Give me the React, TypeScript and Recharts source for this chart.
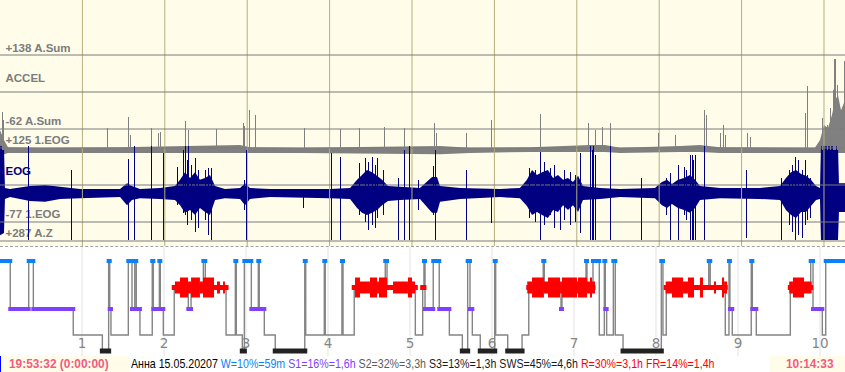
import { Area, ComposedChart, Line, LineChart, ReferenceLine, XAxis, YAxis } from "recharts";

// ---------- recording window (minutes from the start of the strip) ----------
const SIGNAL_SPAN_MIN = 615.3;
const HYPNO_SPAN_MIN = 618.3;
const HOURS = [1, 2, 3, 4, 5, 6, 7, 8, 9, 10];

// ---------- channels ----------
const ACCEL_RANGE = { name: "ACCEL", unit: "A.Sum", max: 138, min: -62 };
const EOG_RANGE = { name: "EOG", unit: "1.EOG", max: 125, min: -77 };
const AZ_TOP = { unit: "A.Z", max: 287 };

// resting level of the accelerometer sum
const ACCEL_REST = -120;

// [minute, upper, lower]
const ACCEL_BAND: [number, number, number][] = [
  [0, -65, -130], [2.9, -92, -130], [5.8, -111, -127], [29.1, -113, -127], [87.4, -111, -127],
  [174.8, -105, -127], [182.0, -111, -127], [218.4, -113, -127], [320.4, -108, -130], [342.2, -113, -127],
  [385.9, -111, -124], [429.6, -105, -124], [440.5, -105, -124], [451.5, -113, -127], [495.1, -108, -124],
  [509.7, -105, -124], [524.3, -111, -127], [593.4, -113, -127], [597.1, -92, -127], [600.0, -51, -127],
  [602.9, -59, -127], [605.8, -24, -127], [608.0, 16, -127], [610.2, 30, -127], [612.4, -11, -127],
  [615.3, 16, -127],
];

// [minute, peak]
const ACCEL_PEAKS: [number, number][] = [
  [1.5, -16], [2.9, -38], [78.1, -59], [93.4, -30], [94.7, -78], [110.5, -59], [115.3, -73], [117.0, -70],
  [135.2, -40], [137.6, -65], [157.8, -62], [177.2, -46], [178.4, -54], [181.5, -11], [186.4, -24],
  [221.4, -59], [247.6, -62], [262.1, -59], [279.8, -57], [294.2, -59], [316.5, -46], [317.5, -73],
  [339.5, -73], [357.7, -38], [393.4, -21], [428.7, -46], [433.5, -65], [438.4, -57], [444.4, -46],
  [479.6, -73], [492.2, -78], [513.1, -11], [514.1, -24], [524.8, -73], [527.0, -51], [528.1, -78],
  [544.4, -73], [546.3, -84], [586.9, -19], [587.8, 54], [598.6, -32], [602.2, -51], [604.4, -5],
  [606.6, 43], [607.3, 127], [608.7, 127], [610.2, 57], [611.6, 3], [614.6, 122],
];

// [minute, upper, lower]
const EOG_BAND: [number, number, number][] = [
  [0, 130, -113], [2.9, 130, -107], [3.6, 16, -14], [7.3, 13, -9], [21.8, 21, -20], [32.8, 24, -22],
  [43.7, 19, -14], [58.3, 13, -12], [87.4, 13, -9], [92.5, 29, -31], [96.1, 21, -17], [101.9, 13, -12],
  [116.5, 16, -14], [127.4, 21, -17], [131.1, 38, -31], [134.7, 59, -52], [138.4, 43, -44], [142.0, 59, -58],
  [145.6, 38, -39], [149.3, 43, -50], [152.9, 51, -58], [156.6, 21, -17], [163.8, 13, -12], [174.8, 16, -14],
  [178.4, 29, -31], [182.0, 16, -14], [196.6, 13, -9], [240.3, 13, -12], [254.9, 16, -14], [260.0, 38, -39],
  [263.6, 51, -52], [267.2, 65, -58], [270.9, 59, -52], [274.5, 49, -44], [278.2, 38, -31], [282.5, 21, -20],
  [291.3, 19, -17], [305.8, 16, -14], [314.6, 46, -52], [318.2, 46, -52], [320.4, 21, -22], [335.0, 16, -14],
  [364.1, 13, -9], [378.6, 16, -12], [383.7, 38, -33], [387.4, 65, -58], [391.0, 51, -50], [394.7, 59, -58],
  [399.0, 65, -66], [402.7, 43, -44], [406.3, 51, -50], [410.0, 38, -31], [413.6, 43, -44], [417.2, 32, -31],
  [420.9, 49, -50], [424.5, 21, -17], [436.9, 16, -14], [451.5, 13, -9], [476.9, 16, -12], [482.0, 32, -31],
  [485.7, 38, -39], [489.3, 27, -28], [493.7, 38, -39], [498.1, 43, -44], [502.4, 51, -52], [506.1, 38, -39],
  [509.7, 21, -17], [524.3, 16, -12], [553.4, 16, -14], [568.0, 21, -17], [572.3, 43, -44], [576.0, 59, -58],
  [579.6, 65, -66], [583.3, 54, -50], [586.9, 49, -50], [590.5, 38, -33], [594.2, 21, -17], [597.1, 16, -14],
  [597.8, 130, -126], [610.2, 130, -126], [610.9, 29, -50], [615.3, 29, -50],
];

// [minute, upper, lower]
const EOG_SPIKES: [number, number, number][] = [
  [21.1, 130, -126], [51.7, 65, -126], [93.4, 95, -126], [97.6, 130, -126], [110.5, 130, -126],
  [118.9, 111, -126], [129.6, 73, -31], [133.3, 120, -52], [135.2, 130, -58], [136.2, 92, -85],
  [137.6, 130, -44], [139.8, 79, -72], [142.5, 98, -104], [144.2, 65, -93], [149.3, 65, -72],
  [151.5, 70, -113], [154.2, 70, -126], [177.7, 38, -44], [179.6, 120, -126], [220.9, 10, -39],
  [241.5, 111, -126], [247.6, 100, -126], [262.1, 84, -58], [265.8, 98, -77], [268.0, 87, -99],
  [270.9, 100, -85], [273.1, 79, -93], [275.2, 98, -66], [278.9, 65, -58], [290.0, 43, -126],
  [294.4, 120, -126], [298.0, 130, -126], [304.4, 38, -44], [315.3, 76, -58], [317.0, 120, -126],
  [339.5, 65, -126], [357.7, 2, -80], [385.9, 70, -66], [389.6, 65, -77], [393.4, 114, -126],
  [396.8, 87, -85], [400.5, 70, -58], [404.1, 79, -93], [408.0, 43, -99], [411.4, 65, -72],
  [415.1, 59, -85], [418.7, 51, -77], [422.6, 111, -107], [429.8, 130, -126], [431.1, 120, -126],
  [432.5, 130, -126], [433.5, 106, -126], [444.4, 130, -126], [467.0, 43, -126], [485.0, 43, -58],
  [488.1, 57, -126], [494.2, 79, -126], [498.1, 73, -58], [500.2, 65, -72], [502.6, 106, -126],
  [503.9, 106, -126], [505.3, 92, -126], [506.3, 106, -126], [513.1, 130, -126], [543.9, 65, -121],
  [569.4, 43, -126], [575.2, 65, -85], [577.4, 79, -104], [579.6, 100, -126], [581.8, 92, -113],
  [584.0, 65, -121], [586.2, 92, -85], [588.3, 51, -72], [590.5, 43, -66],
];

// ---------- hypnogram ----------
type Stage = "W" | "R" | "S1" | "S2" | "S3";

// [minute, stage entered]
const STAGE_CHANGES: [number, Stage][] = [
  [0, "W"], [7.5, "S1"], [21.0, "W"], [24.4, "S1"], [53.6, "S2"], [74.9, "S3"], [79.5, "W"], [80.3, "S1"],
  [81.2, "S2"], [93.9, "W"], [96.6, "S1"], [98.6, "W"], [99.7, "S1"], [102.4, "S2"], [111.4, "W"],
  [112.2, "S1"], [116.6, "W"], [117.3, "S1"], [119.5, "S2"], [127.5, "R"], [137.8, "S1"], [139.8, "R"],
  [148.8, "W"], [150.2, "R"], [165.4, "S2"], [172.2, "W"], [172.9, "S2"], [177.3, "S3"], [178.8, "W"],
  [183.9, "S1"], [189.0, "W"], [189.7, "S1"], [193.4, "S2"], [201.4, "S3"], [223.0, "W"], [223.7, "S2"],
  [237.3, "W"], [238.0, "S2"], [250.2, "W"], [251.0, "S2"], [259.2, "R"], [281.9, "W"], [283.2, "R"],
  [303.9, "S2"], [309.3, "R"], [310.2, "W"], [311.0, "S1"], [317.0, "W"], [321.4, "S1"], [328.8, "S2"],
  [338.3, "S3"], [342.2, "W"], [343.9, "S1"], [345.6, "S2"], [351.4, "S3"], [362.0, "W"], [362.7, "S2"],
  [371.5, "S3"], [382.0, "S2"], [386.9, "R"], [397.5, "W"], [398.3, "R"], [410.5, "S1"], [411.2, "R"],
  [428.8, "W"], [429.5, "R"], [433.9, "W"], [438.5, "S2"], [442.2, "W"], [442.9, "S1"], [443.9, "S2"],
  [448.8, "W"], [450.2, "S2"], [455.9, "S3"], [483.9, "W"], [485.1, "S2"], [487.5, "R"], [518.6, "W"],
  [519.7, "R"], [530.7, "S2"], [533.4, "W"], [534.1, "S1"], [535.8, "S2"], [549.7, "W"], [550.5, "S1"],
  [553.4, "S2"], [578.3, "R"], [593.2, "W"], [594.9, "S1"], [601.7, "S2"], [604.2, "W"],
];

// phasic REM bursts: [from, to, intensity 1 = moderate, 2 = strong]
const PHASIC_REM: [number, number, 1 | 2][] = [
  [128.0, 131.7, 1], [131.7, 137.6, 2], [137.6, 139.8, 1], [139.8, 146.3, 2], [146.3, 148.5, 1],
  [148.5, 156.6, 2], [158.8, 161.0, 1], [163.2, 164.6, 1],
  [259.8, 263.4, 2], [263.4, 270.7, 1], [270.7, 275.9, 2], [275.9, 277.3, 1], [277.3, 283.2, 2],
  [287.6, 298.5, 1], [298.5, 301.5, 2], [301.5, 303.7, 1],
  [385.8, 389.3, 1], [389.3, 398.0, 2], [398.0, 401.0, 1], [401.0, 409.8, 2], [409.8, 411.2, 1],
  [411.2, 422.2, 2], [422.2, 422.9, 1], [422.9, 429.5, 2], [429.5, 431.7, 1], [431.7, 433.2, 2],
  [433.2, 435.4, 1],
  [487.1, 491.7, 1], [491.7, 499.8, 2], [499.8, 503.4, 1], [503.4, 507.8, 2], [512.2, 514.4, 2],
  [522.4, 523.9, 1], [528.3, 529.8, 2], [529.8, 532.0, 1],
  [577.5, 580.2, 1], [580.2, 588.3, 2], [588.3, 593.9, 1],
];

// ---------- status line ----------
const START_TIME = "19:53:32 (0:00:00)";
const END_TIME = "10:14:33";
const STATS: { text: string; tone: string }[] = [
  { text: "Анна 15.05.20207", tone: "name" },
  { text: "W=10%=59m", tone: "W" },
  { text: "S1=16%=1,6h", tone: "S1" },
  { text: "S2=32%=3,3h", tone: "S2" },
  { text: "S3=13%=1,3h", tone: "S3" },
  { text: "SWS=45%=4,6h", tone: "S3" },
  { text: "R=30%=3,1h", tone: "R" },
  { text: "FR=14%=1,4h", tone: "R" },
];

// ---------- styling ----------
const WIDTH = 845;
const SIGNAL_H = 246;
const HYPNO_H = 109;
const CREAM = "#fffdea";
const NAVY = "#000080";
const TRACE_GRAY = "#808080";
const ROW_LINE = "#7a7a7a";
const HOUR_LINE = "#b3af7c";
const LABEL_GRAY = "#7c7c7c";
const PINK = "#f4597f";
const SANS = "'Liberation Sans', Arial, sans-serif";

// channel rows in the signal strip
const CH_TOP = 55;
const CH_SPAN = 74;
const CH_STEP = 93;

const STAGE_STYLE: Record<Stage, { level: number; color: string; width: number }> = {
  W: { level: 0, color: "#0a80ff", width: 4 },
  R: { level: 1.18, color: "#ff0000", width: 5 },
  S1: { level: 2.13, color: "#8040ff", width: 4 },
  S2: { level: 3.29, color: "#808080", width: 0 },
  S3: { level: 4, color: "#222222", width: 5 },
};
const TONE_COLOR: Record<string, string> = {
  name: "#000000",
  W: "#0a80ff",
  S1: "#8040ff",
  S2: "#5c5c5c",
  S3: "#1a1a1a",
  R: "#ff0000",
};
const HYPNO_PAD_TOP = 14;
const HYPNO_ROW = 22.5;

function channelDomain(max: number, min: number, row: number): [number, number] {
  const pxPerUnit = CH_SPAN / (max - min);
  const top = CH_TOP + row * CH_STEP;
  return [max - (SIGNAL_H - top) / pxPerUnit, max + top / pxPerUnit];
}

const accDomain = channelDomain(ACCEL_RANGE.max, ACCEL_RANGE.min, 0);
const eogDomain = channelDomain(EOG_RANGE.max, EOG_RANGE.min, 1);
// top of the next (A.Z) row, expressed on the EOG scale
const azOnEog = EOG_RANGE.max - (CH_STEP * (EOG_RANGE.max - EOG_RANGE.min)) / CH_SPAN;

const accBand = ACCEL_BAND.map(([t, hi, lo]) => ({ t, v: [lo, hi] }));
const eogBand = EOG_BAND.map(([t, hi, lo]) => ({ t, v: [lo, hi] }));
const accPeaks = ACCEL_PEAKS.flatMap(([t, hi]) => [
  { t, v: hi },
  { t, v: ACCEL_REST },
  { t, v: null },
]);
const eogSpikes = EOG_SPIKES.flatMap(([t, hi, lo]) => [
  { t, v: hi },
  { t, v: lo },
  { t, v: null },
]);

const minorTicks = Array.from({ length: Math.floor(SIGNAL_SPAN_MIN / 10) + 1 }, (_, i) => i * 10);
const hourTicks = HOURS.map((h) => h * 60);

const fmtBound = (v: number) => `${v > 0 ? "+" : ""}${v}`;

function RowLabel(props: any) {
  const { viewBox, caption, color, lift } = props;
  if (!viewBox) return null;
  return (
    <text
      x={viewBox.x + 5.5}
      y={viewBox.y - lift}
      fill={color}
      fontFamily={SANS}
      fontSize={11.5}
      fontWeight="bold"
    >
      {caption}
    </text>
  );
}

function HourLabel(props: any) {
  const { viewBox, hour } = props;
  if (!viewBox) return null;
  return (
    <text
      x={viewBox.x}
      y={viewBox.y + viewBox.height - 8}
      textAnchor="middle"
      fill="#868686"
      fontFamily="'DejaVu Sans', sans-serif"
      fontSize={13.5}
    >
      {hour}
    </text>
  );
}

function SignalStrip() {
  const rows = [
    { axis: "acc", value: ACCEL_RANGE.max, caption: `${fmtBound(ACCEL_RANGE.max)} ${ACCEL_RANGE.unit}`, color: LABEL_GRAY, lift: 3.5 },
    { axis: "acc", value: (ACCEL_RANGE.max + ACCEL_RANGE.min) / 2, caption: ACCEL_RANGE.name, color: LABEL_GRAY, lift: 10 },
    { axis: "acc", value: ACCEL_RANGE.min, caption: `${fmtBound(ACCEL_RANGE.min)} ${ACCEL_RANGE.unit}`, color: LABEL_GRAY, lift: 4.5 },
    { axis: "eog", value: EOG_RANGE.max, caption: `${fmtBound(EOG_RANGE.max)} ${EOG_RANGE.unit}`, color: LABEL_GRAY, lift: 4 },
    { axis: "eog", value: (EOG_RANGE.max + EOG_RANGE.min) / 2, caption: EOG_RANGE.name, color: NAVY, lift: 10 },
    { axis: "eog", value: EOG_RANGE.min, caption: `${fmtBound(EOG_RANGE.min)} ${EOG_RANGE.unit}`, color: LABEL_GRAY, lift: 4 },
    { axis: "eog", value: azOnEog, caption: `${fmtBound(AZ_TOP.max)} ${AZ_TOP.unit}`, color: LABEL_GRAY, lift: 4 },
  ];

  return (
    <ComposedChart width={WIDTH} height={SIGNAL_H} margin={{ top: 0, right: 0, bottom: 0, left: 0 }}>
      <XAxis xAxisId="t" dataKey="t" type="number" domain={[0, SIGNAL_SPAN_MIN]} allowDataOverflow hide />
      <XAxis
        xAxisId="minor"
        type="number"
        orientation="top"
        mirror
        domain={[0, SIGNAL_SPAN_MIN]}
        ticks={minorTicks}
        tick={false}
        tickSize={3.5}
        tickLine={{ stroke: "#000" }}
        axisLine={false}
        allowDataOverflow
      />
      <XAxis
        xAxisId="major"
        type="number"
        orientation="top"
        mirror
        domain={[0, SIGNAL_SPAN_MIN]}
        ticks={hourTicks}
        tick={false}
        tickSize={6}
        tickLine={{ stroke: "#000" }}
        axisLine={false}
        allowDataOverflow
      />
      <YAxis yAxisId="acc" type="number" domain={accDomain} allowDataOverflow hide />
      <YAxis yAxisId="eog" type="number" domain={eogDomain} allowDataOverflow hide />

      {hourTicks.map((m) => (
        <ReferenceLine key={m} xAxisId="t" yAxisId="eog" x={m} stroke={HOUR_LINE} strokeWidth={1} />
      ))}
      {rows.map((r, i) => (
        <ReferenceLine
          key={i}
          xAxisId="t"
          yAxisId={r.axis}
          y={r.value}
          stroke={ROW_LINE}
          strokeWidth={1}
          label={<RowLabel caption={r.caption} color={r.color} lift={r.lift} />}
        />
      ))}

      <Area
        xAxisId="t"
        yAxisId="acc"
        data={accBand}
        dataKey="v"
        type="linear"
        stroke="none"
        fill={TRACE_GRAY}
        fillOpacity={1}
        dot={false}
        activeDot={false}
        isAnimationActive={false}
      />
      <Line
        xAxisId="t"
        yAxisId="acc"
        data={accPeaks}
        dataKey="v"
        type="linear"
        stroke={TRACE_GRAY}
        strokeWidth={1}
        shapeRendering="crispEdges"
        dot={false}
        activeDot={false}
        connectNulls={false}
        isAnimationActive={false}
      />
      <Area
        xAxisId="t"
        yAxisId="eog"
        data={eogBand}
        dataKey="v"
        type="linear"
        stroke="none"
        fill={NAVY}
        fillOpacity={1}
        dot={false}
        activeDot={false}
        isAnimationActive={false}
      />
      <Line
        xAxisId="t"
        yAxisId="eog"
        data={eogSpikes}
        dataKey="v"
        type="linear"
        stroke={NAVY}
        strokeWidth={1}
        shapeRendering="crispEdges"
        dot={false}
        activeDot={false}
        connectNulls={false}
        isAnimationActive={false}
      />
    </ComposedChart>
  );
}

function stageRuns(stage: Stage) {
  const lvl = STAGE_STYLE[stage].level;
  const out: { t: number; y: number | null }[] = [];
  STAGE_CHANGES.forEach(([t, s], i) => {
    if (s !== stage) return;
    const end = i + 1 < STAGE_CHANGES.length ? STAGE_CHANGES[i + 1][0] : HYPNO_SPAN_MIN;
    out.push({ t, y: lvl }, { t: end, y: lvl }, { t: end, y: null });
  });
  return out;
}

function phasicRuns(intensity: 1 | 2) {
  const lvl = STAGE_STYLE.R.level;
  return PHASIC_REM.filter((p) => p[2] === intensity).flatMap(([a, b]) => [
    { t: a, y: lvl },
    { t: b, y: lvl },
    { t: b, y: null },
  ]);
}

function Hypnogram() {
  const steps = STAGE_CHANGES.map(([t, s]) => ({ t, y: STAGE_STYLE[s].level as number | null }));
  steps.push({ t: HYPNO_SPAN_MIN, y: STAGE_STYLE[STAGE_CHANGES[STAGE_CHANGES.length - 1][1]].level });
  const lvlDomain: [number, number] = [
    -HYPNO_PAD_TOP / HYPNO_ROW,
    STAGE_STYLE.S3.level + (HYPNO_H - HYPNO_PAD_TOP - STAGE_STYLE.S3.level * HYPNO_ROW) / HYPNO_ROW,
  ];
  const colored: Stage[] = ["W", "S1", "S3", "R"];

  return (
    <LineChart width={WIDTH} height={HYPNO_H} margin={{ top: 0, right: 0, bottom: 0, left: 0 }}>
      <XAxis xAxisId="t" dataKey="t" type="number" domain={[0, HYPNO_SPAN_MIN]} allowDataOverflow hide />
      <YAxis yAxisId="lvl" type="number" domain={lvlDomain} reversed allowDataOverflow hide />
      {HOURS.map((h) => (
        <ReferenceLine
          key={h}
          xAxisId="t"
          yAxisId="lvl"
          x={h * 60}
          stroke="#e3e3e3"
          strokeWidth={1}
          label={<HourLabel hour={h} />}
        />
      ))}
      <Line
        xAxisId="t"
        yAxisId="lvl"
        data={steps}
        dataKey="y"
        type="stepAfter"
        stroke="#848484"
        strokeWidth={1.4}
        dot={false}
        activeDot={false}
        isAnimationActive={false}
      />
      {colored.map((s) => (
        <Line
          key={s}
          xAxisId="t"
          yAxisId="lvl"
          data={stageRuns(s)}
          dataKey="y"
          type="linear"
          stroke={STAGE_STYLE[s].color}
          strokeWidth={STAGE_STYLE[s].width}
          strokeLinecap="square"
          dot={false}
          activeDot={false}
          connectNulls={false}
          isAnimationActive={false}
        />
      ))}
      <Line
        xAxisId="t"
        yAxisId="lvl"
        data={phasicRuns(1)}
        dataKey="y"
        type="linear"
        stroke={STAGE_STYLE.R.color}
        strokeWidth={12}
        strokeLinecap="butt"
        dot={false}
        activeDot={false}
        connectNulls={false}
        isAnimationActive={false}
      />
      <Line
        xAxisId="t"
        yAxisId="lvl"
        data={phasicRuns(2)}
        dataKey="y"
        type="linear"
        stroke={STAGE_STYLE.R.color}
        strokeWidth={20}
        strokeLinecap="butt"
        dot={false}
        activeDot={false}
        connectNulls={false}
        isAnimationActive={false}
      />
    </LineChart>
  );
}

function StatusBar() {
  return (
    <div style={{ position: "absolute", left: 0, top: 356, width: WIDTH, height: 16, fontFamily: SANS }}>
      <div
        style={{
          position: "absolute",
          left: 0,
          top: 0,
          width: 128.5,
          height: 16,
          background: CREAM,
          borderLeft: "1.5px solid #0000ff",
        }}
      />
      <div
        style={{
          position: "absolute",
          left: 9,
          top: 1,
          fontSize: 12.5,
          lineHeight: "14px",
          fontWeight: "bold",
          color: PINK,
          whiteSpace: "nowrap",
          transform: "scaleX(0.95)",
          transformOrigin: "left top",
        }}
      >
        {START_TIME}
      </div>
      <div
        style={{
          position: "absolute",
          left: 130.5,
          top: 1,
          fontSize: 13,
          lineHeight: "14px",
          whiteSpace: "pre",
          transform: "scaleX(0.818)",
          transformOrigin: "left top",
        }}
      >
        {STATS.map((s, i) => (
          <span key={i} style={{ color: TONE_COLOR[s.tone] }}>
            {(i > 0 ? " " : "") + s.text}
          </span>
        ))}
      </div>
      <div style={{ position: "absolute", left: 770, top: 0, width: 75, height: 16, background: CREAM }} />
      <div
        style={{
          position: "absolute",
          left: 786,
          top: 1,
          fontSize: 12.5,
          lineHeight: "14px",
          fontWeight: "bold",
          color: PINK,
          whiteSpace: "nowrap",
          transform: "scaleX(0.95)",
          transformOrigin: "left top",
        }}
      >
        {END_TIME}
      </div>
    </div>
  );
}

export default function App() {
  return (
    <div style={{ position: "relative", width: WIDTH, height: 372, background: "#fff", overflow: "hidden" }}>
      <style>{"body{margin:0}"}</style>
      <div style={{ position: "absolute", left: 0, top: 0, width: WIDTH, height: SIGNAL_H, background: CREAM }}>
        <SignalStrip />
      </div>
      <div
        style={{
          position: "absolute",
          left: 0,
          top: SIGNAL_H,
          width: WIDTH,
          height: 0,
          borderTop: "1px dashed #a3a3a3",
        }}
      />
      <div style={{ position: "absolute", left: 0, top: SIGNAL_H + 1, width: WIDTH, height: HYPNO_H }}>
        <Hypnogram />
      </div>
      <StatusBar />
    </div>
  );
}
